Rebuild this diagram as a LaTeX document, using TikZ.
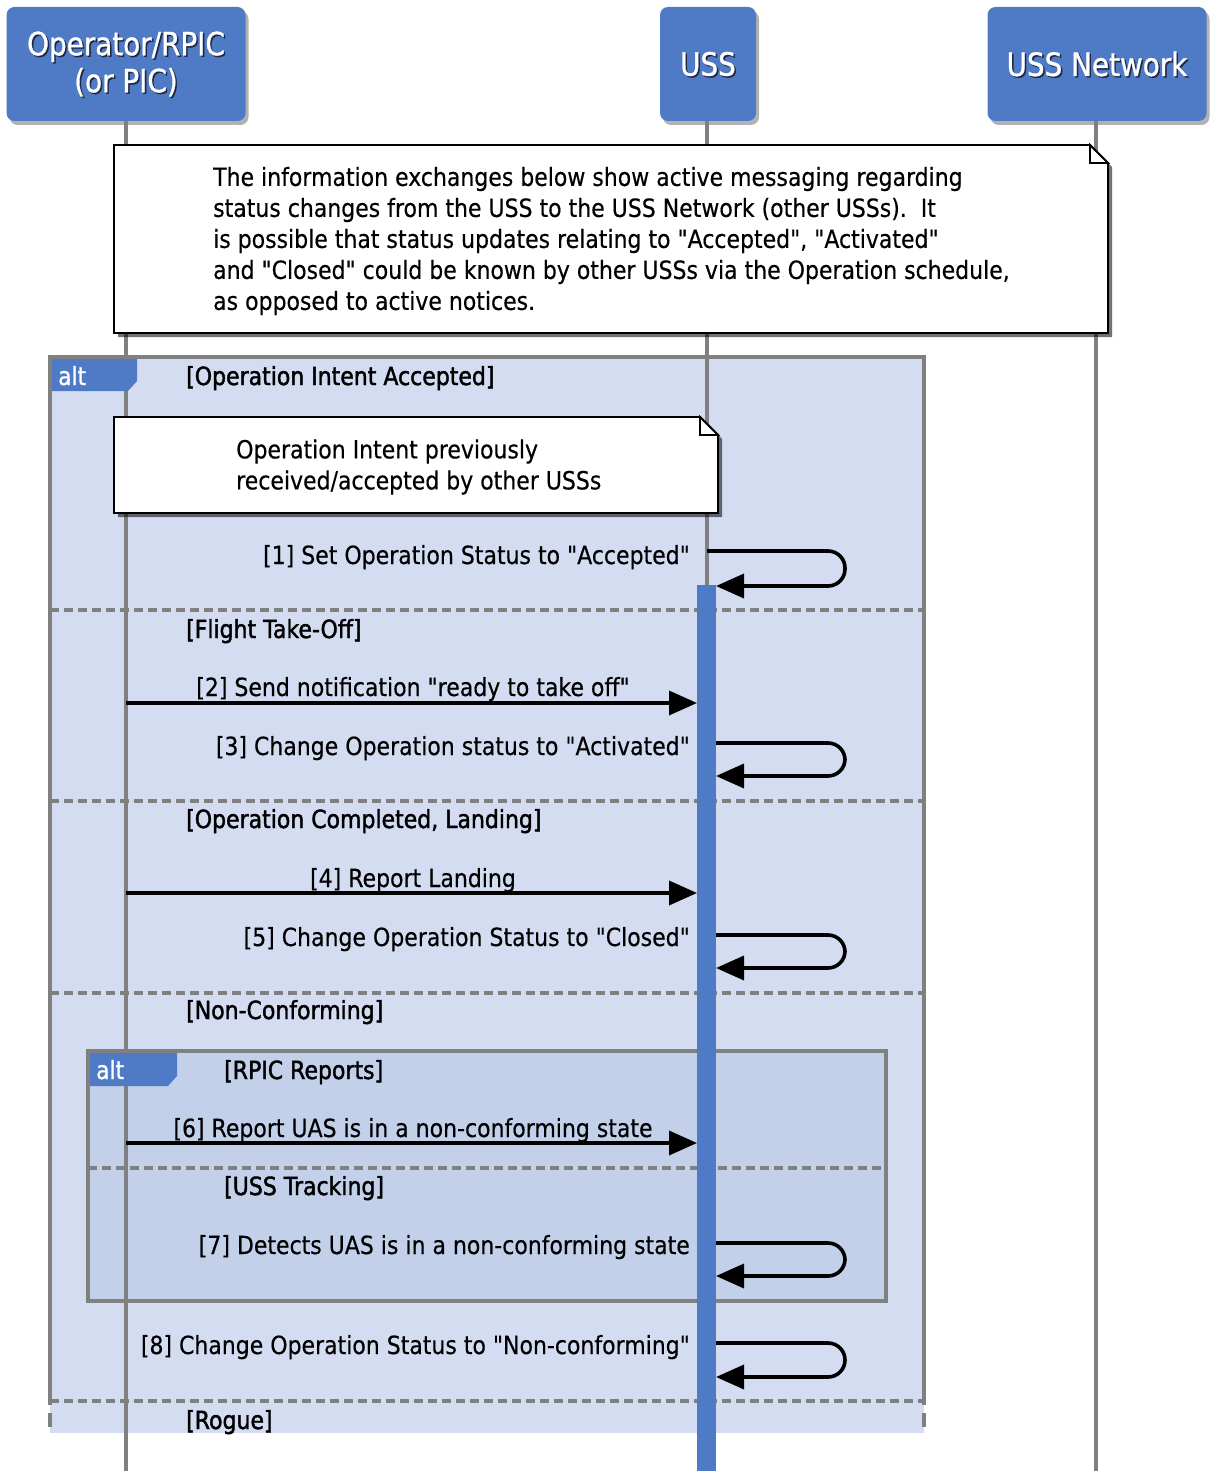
\documentclass[tikz,border=0pt]{standalone}
\usepackage{fontspec}
\setmainfont{DejaVu Sans}[FakeStretch=0.88, FakeBold=0.4, Ligatures=TeXOff]
\newfontfamily\guardfont{DejaVu Sans}[FakeStretch=0.88, FakeBold=1.6, Ligatures=TeXOff]
\newfontfamily\headfont{DejaVu Sans}[FakeStretch=0.87, FakeBold=1.0, Ligatures=TeXOff]
\usetikzlibrary{shadows,arrows.meta}

\definecolor{hdrblue}{RGB}{79,122,198}
\definecolor{hdrdark}{RGB}{30,40,70}
\definecolor{framefill}{RGB}{212,220,242}
\definecolor{innerfill}{RGB}{194,208,234}
\definecolor{linegray}{RGB}{128,128,128}

\tikzset{
  hdr/.style={draw=none, fill=hdrblue, rounded corners=8pt, inner sep=0pt,
    drop shadow={shadow xshift=3pt, shadow yshift=-4pt, fill=black, opacity=0.3}},
  hdrtext/.style={text=white, font=\headfont\fontsize{32}{37}\selectfont, align=center, inner sep=0pt},
  hdrshade/.style={text=hdrdark, font=\headfont\fontsize{32}{37}\selectfont, align=center, inner sep=0pt},
  lifeline/.style={draw=linegray, line width=4pt},
  framebox/.style={draw=linegray, line width=4pt},
  separator/.style={draw=linegray, line width=4pt, dash pattern=on 9pt off 5pt},
  notebox/.style={draw=black, line width=1.8pt, fill=white,
    drop shadow={shadow xshift=4pt, shadow yshift=-4pt, fill=black, opacity=0.55}},
  tab/.style={fill=hdrblue, draw=none},
  tabtext/.style={text=white, font=\headfont\fontsize{25}{30}\selectfont, inner sep=0pt, anchor=base west},
  lbl/.style={font=\fontsize{25}{31}\selectfont, inner sep=0pt, text=black},
  guard/.style={font=\guardfont\fontsize{25}{31}\selectfont, inner sep=0pt, text=black, anchor=base west},
  msg/.style={draw=black, line width=3.6pt, -{Triangle[length=28pt,width=24pt]}},
  selfmsg/.style={draw=black, line width=3.6pt, rounded corners=17pt, -{Triangle[length=28pt,width=24pt]}},
  actbar/.style={fill=hdrblue, draw=none},
}

\begin{document}
\begin{tikzpicture}[x=1pt,y=-1pt]
\useasboundingbox (0,0) rectangle (1209,1471);

% ---------- combined fragment backgrounds ----------
\fill[framefill] (50,357) rectangle (924,1433);
\fill[innerfill] (88,1051) rectangle (886,1301);

% ---------- participants ----------
\node[hdr, minimum width=239pt, minimum height=114pt] (op) at (126,64) {};
\node[hdr, minimum width=96pt, minimum height=114pt] (uss) at (708,64) {};
\node[hdr, minimum width=219pt, minimum height=114pt] (net) at (1097,64) {};

\node[hdrshade] (opS) at (127.5,65.5) {Operator/RPIC\\(or PIC)};
\node[hdrtext] (opT) at (126,64) {Operator/RPIC\\(or PIC)};
\node[hdrshade] (ussS) at (709.5,65.5) {USS};
\node[hdrtext] (ussT) at (708,64) {USS};
\node[hdrshade] (netS) at (1098.5,65.5) {USS Network};
\node[hdrtext] (netT) at (1097,64) {USS Network};

% ---------- lifelines ----------
\coordinate (opTop) at (126,121);
\coordinate (opEnd) at (126,1471);
\coordinate (ussTop) at (707,121);
\coordinate (ussEnd) at (707,1471);
\coordinate (netTop) at (1096,121);
\coordinate (netEnd) at (1096,1471);
\draw[lifeline] (opTop) -- (opEnd);
\draw[lifeline] (ussTop) -- (ussEnd);
\draw[lifeline] (netTop) -- (netEnd);

% ---------- frame borders and operand separators ----------
\draw[framebox] (50,1405) -- (50,357) -- (924,357) -- (924,1405);
\draw[framebox] (50,1413) -- (50,1427);
\draw[framebox] (924,1413) -- (924,1427);
\draw[separator] (50,610) -- (924,610);
\draw[separator] (50,801) -- (924,801);
\draw[separator] (50,993) -- (924,993);
\draw[separator] (50,1401) -- (924,1401);

\draw[framebox] (88,1051) rectangle (886,1301);
\draw[separator] (88,1168) -- (886,1168);

% ---------- alt tabs ----------
\fill[tab] (52,359) -- (137,359) -- (137,381) -- (128,391) -- (52,391) -- cycle;
\node[tabtext] (alt1) at (58,385) {alt};
\fill[tab] (90,1053) -- (177,1053) -- (177,1076) -- (168,1086) -- (90,1086) -- cycle;
\node[tabtext] (alt2) at (96,1079) {alt};

% ---------- notes ----------
\draw[notebox] (114,145) -- (1090,145) -- (1108,163) -- (1108,333) -- (114,333) -- cycle;
\draw[line width=1.8pt, fill=white] (1090,145) -- (1090,163) -- (1108,163) -- cycle;
\node[lbl, align=left, anchor=west] (note1) at (213,241)
  {The information exchanges below show active messaging regarding\\
   status changes from the USS to the USS Network (other USSs).\ \ It\\
   is possible that status updates relating to "Accepted", "Activated"\\
   and "Closed" could be known by other USSs via the Operation schedule,\\
   as opposed to active notices.};

\draw[notebox] (114,417) -- (700,417) -- (718,435) -- (718,513) -- (114,513) -- cycle;
\draw[line width=1.8pt, fill=white] (700,417) -- (700,435) -- (718,435) -- cycle;
\node[lbl, align=left, anchor=west] (note2) at (236,467)
  {Operation Intent previously\\received/accepted by other USSs};

% ---------- activation bar ----------
\fill[actbar] (697,585) rectangle (716,1471);

% ---------- guards ----------
\node[guard] (g1) at (186,385) {[Operation Intent Accepted]};
\node[guard] (g2) at (186,638) {[Flight Take-Off]};
\node[guard] (g3) at (186,828) {[Operation Completed, Landing]};
\node[guard] (g4) at (186,1019) {[Non-Conforming]};
\node[guard] (g5) at (224,1079) {[RPIC Reports]};
\node[guard] (g6) at (224,1195) {[USS Tracking]};
\node[guard] (g7) at (186,1429) {[Rogue]};

% ---------- messages ----------
% [1] self message
\coordinate (s1a) at (707,551);
\coordinate (s1b) at (716,586);
\draw[selfmsg] (s1a) -- (845,551) -- (845,586) -- (s1b);
\node[lbl, anchor=base east] (l1) at (690,564) {[1] Set Operation Status to "Accepted"};

% [2]
\coordinate (m2a) at (126,703);
\coordinate (m2b) at (697,703);
\draw[msg] (m2a) -- (m2b);
\node[lbl, anchor=base] (l2) at (413,696) {[2] Send notification "ready to take off"};

% [3]
\coordinate (s3a) at (716,743);
\coordinate (s3b) at (716,776);
\draw[selfmsg] (s3a) -- (845,743) -- (845,776) -- (s3b);
\node[lbl, anchor=base east] (l3) at (690,755) {[3] Change Operation status to "Activated"};

% [4]
\coordinate (m4a) at (126,893);
\coordinate (m4b) at (697,893);
\draw[msg] (m4a) -- (m4b);
\node[lbl, anchor=base] (l4) at (413,887) {[4] Report Landing};

% [5]
\coordinate (s5a) at (716,935);
\coordinate (s5b) at (716,968);
\draw[selfmsg] (s5a) -- (845,935) -- (845,968) -- (s5b);
\node[lbl, anchor=base east] (l5) at (690,946) {[5] Change Operation Status to "Closed"};

% [6]
\coordinate (m6a) at (126,1143);
\coordinate (m6b) at (697,1143);
\draw[msg] (m6a) -- (m6b);
\node[lbl, anchor=base] (l6) at (413,1137) {[6] Report UAS is in a non-conforming state};

% [7]
\coordinate (s7a) at (716,1243);
\coordinate (s7b) at (716,1276);
\draw[selfmsg] (s7a) -- (845,1243) -- (845,1276) -- (s7b);
\node[lbl, anchor=base east] (l7) at (690,1254) {[7] Detects UAS is in a non-conforming state};

% [8]
\coordinate (s8a) at (716,1343);
\coordinate (s8b) at (716,1377);
\draw[selfmsg] (s8a) -- (845,1343) -- (845,1377) -- (s8b);
\node[lbl, anchor=base east] (l8) at (690,1354) {[8] Change Operation Status to "Non-conforming"};

\end{tikzpicture}
\end{document}
